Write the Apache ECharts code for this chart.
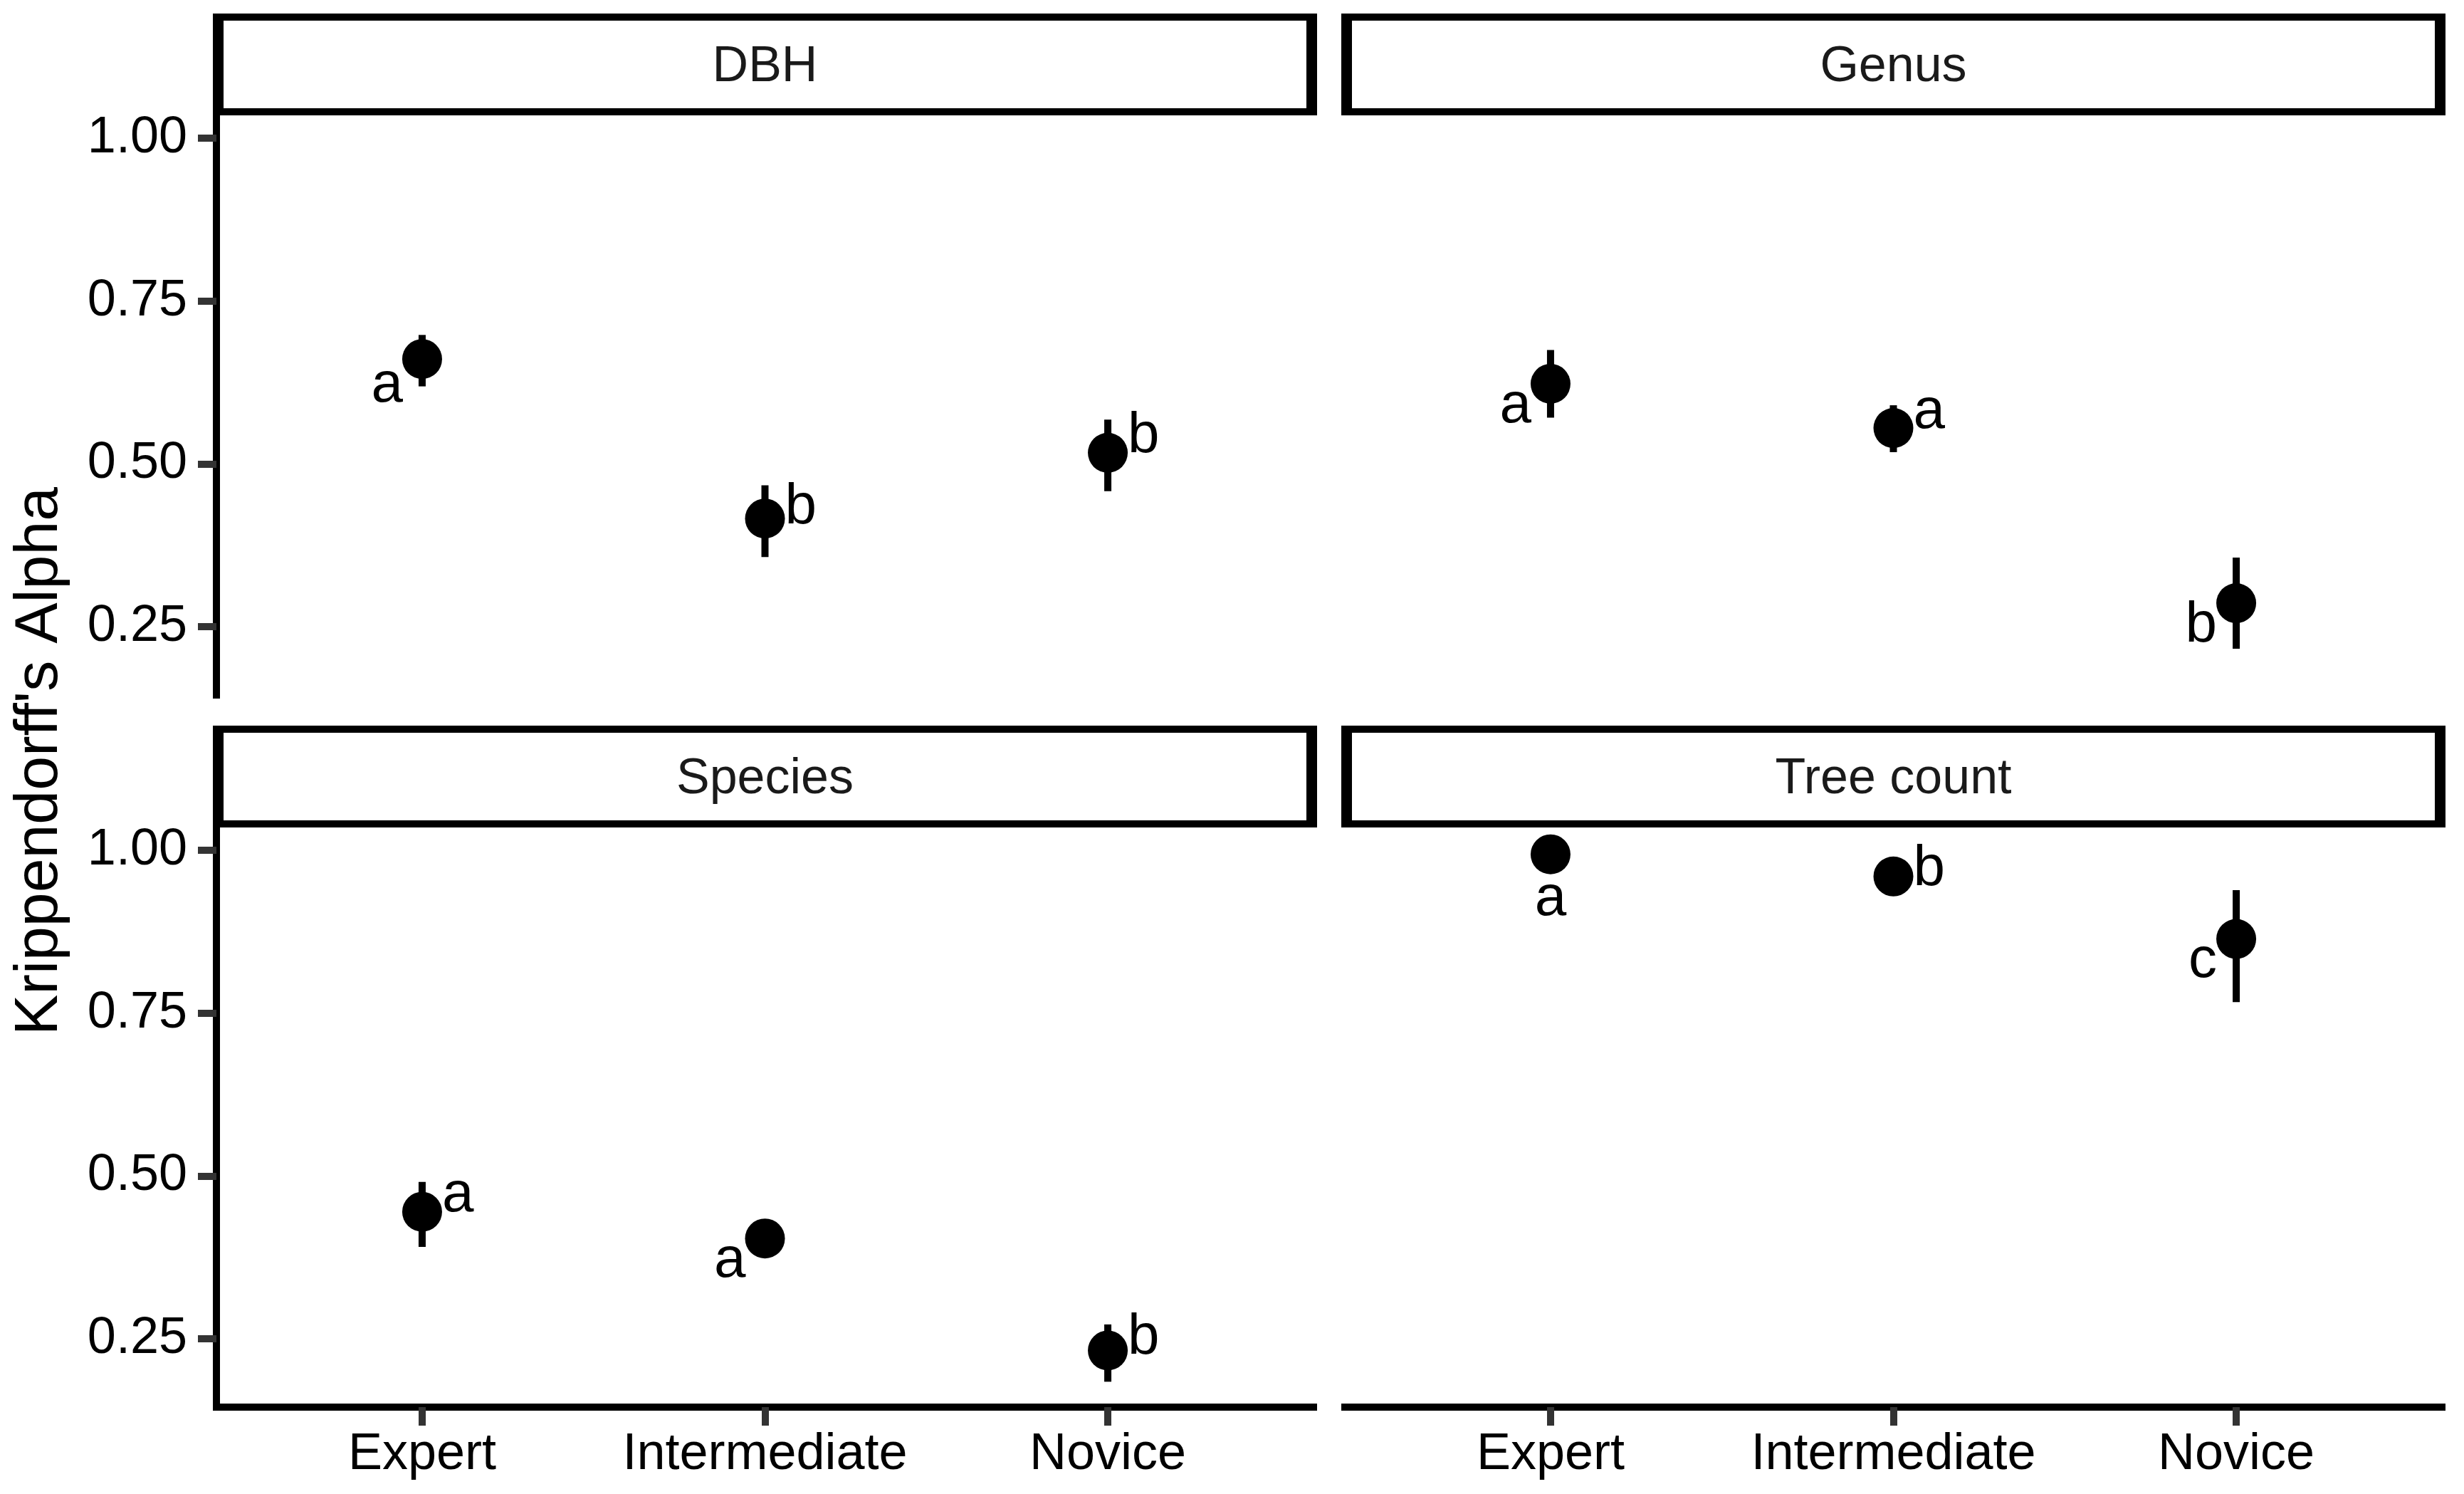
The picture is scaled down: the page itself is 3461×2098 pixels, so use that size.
<!DOCTYPE html>
<html>
<head>
<meta charset="utf-8">
<script src="https://cdn.jsdelivr.net/npm/echarts@6/dist/echarts.min.js"></script>
<style>
  html, body { margin: 0; padding: 0; background: #fff; }
  #chart { width: 3461px; height: 2098px; }
</style>
</head>
<body>
<div id="chart"></div>
<script>
// ---------- DATA ----------
const CATEGORIES = ['Expert', 'Intermediate', 'Novice'];
const PANELS = ['DBH', 'Genus', 'Species', 'Tree count'];
const Y_TICKS = [0.25, 0.50, 0.75, 1.00];
const Y_TITLE = "Krippendorff's Alpha";

const DBH_MEAN = [0.661, 0.416, 0.517];
const DBH_LOW  = [0.619, 0.357, 0.458];
const DBH_HIGH = [0.698, 0.467, 0.568];
const DBH_LETTERS = ['a', 'b', 'b'];

const GENUS_MEAN = [0.623, 0.555, 0.286];
const GENUS_LOW  = [0.571, 0.518, 0.216];
const GENUS_HIGH = [0.675, 0.590, 0.356];
const GENUS_LETTERS = ['a', 'a', 'b'];

const SPECIES_MEAN = [0.445, 0.404, 0.232];
const SPECIES_LOW  = [0.391, 0.380, 0.184];
const SPECIES_HIGH = [0.491, 0.428, 0.272];
const SPECIES_LETTERS = ['a', 'a', 'b'];

const TREE_MEAN = [0.994, 0.960, 0.864];
const TREE_LOW  = [0.985, 0.950, 0.767];
const TREE_HIGH = [1.000, 0.970, 0.939];
const TREE_LETTERS = ['a', 'b', 'c'];

const PANEL_DATA = [
  { mean: DBH_MEAN, low: DBH_LOW, high: DBH_HIGH, letters: DBH_LETTERS },
  { mean: GENUS_MEAN, low: GENUS_LOW, high: GENUS_HIGH, letters: GENUS_LETTERS },
  { mean: SPECIES_MEAN, low: SPECIES_LOW, high: SPECIES_HIGH, letters: SPECIES_LETTERS },
  { mean: TREE_MEAN, low: TREE_LOW, high: TREE_HIGH, letters: TREE_LETTERS }
];

// ---------- LAYOUT / STYLE ----------
const Y_MIN = 0.145, Y_MAX = 1.0407;
const FONT = '"Liberation Sans", Arial, Helvetica, sans-serif';
const GRIDS = [
  { left: 304,  top: 157,  width: 1541, height: 819 },
  { left: 1889, top: 157,  width: 1541, height: 819 },
  { left: 304,  top: 1157, width: 1541, height: 819 },
  { left: 1889, top: 1157, width: 1541, height: 819 }
];
// label side (L = left/below, R = right, B = below) and baseline offset (px) from point centre
const LABEL_SIDE = [['L', 'R', 'R'], ['L', 'R', 'L'], ['R', 'L', 'R'], ['B', 'R', 'L']];
const LABEL_BASE = [[65, 12, 5], [60, 6, 60], [5, 59, 10], [91, 18, 59]];
const LABEL_FONT = 80;
const POINT_R = 28;
const BAR_W = 10;

const chart = echarts.init(document.getElementById('chart'), null, { renderer: 'canvas' });

const grids = [], xAxes = [], yAxes = [], series = [], graphics = [];

GRIDS.forEach((g, i) => {
  const isBottom = i >= 2;
  const isLeft = i % 2 === 0;
  grids.push({ left: g.left, top: g.top, width: g.width, height: g.height,
               containLabel: false, outerBoundsMode: 'none' });

  xAxes.push({
    type: 'value', gridIndex: i, min: 0.4, max: 3.6,
    axisLine: { show: isBottom, onZero: false, lineStyle: { color: '#000', width: 10, cap: 'square' } },
    axisTick: { show: isBottom, customValues: [1, 2, 3], length: 26, lineStyle: { color: '#333333', width: 10 } },
    axisLabel: { show: isBottom, customValues: [1, 2, 3], margin: 31,
                 formatter: v => CATEGORIES[Math.round(v) - 1] || '',
                 color: '#000', fontSize: 72, fontFamily: FONT },
    splitLine: { show: false }
  });

  yAxes.push({
    type: 'value', gridIndex: i, min: Y_MIN, max: Y_MAX,
    axisLine: { show: isLeft, onZero: false, lineStyle: { color: '#000', width: 10, cap: 'square' } },
    axisTick: { show: isLeft, customValues: Y_TICKS, length: 26, lineStyle: { color: '#333333', width: 10 } },
    axisLabel: { show: isLeft, customValues: Y_TICKS, margin: 41,
                 formatter: v => Number(v).toFixed(2),
                 color: '#000', fontSize: 72, fontFamily: FONT },
    splitLine: { show: false }
  });

  const pd = PANEL_DATA[i];
  const data = CATEGORIES.map((c, k) => [k + 1, pd.mean[k], pd.low[k], pd.high[k], k]);

  series.push({
    type: 'custom', xAxisIndex: i, yAxisIndex: i, data: data, silent: true,
    animation: false,
    renderItem: (params, api) => {
      const x = api.value(0);
      const k = api.value(4);
      const c = api.coord([x, api.value(1)]);
      const lo = api.coord([x, api.value(2)]);
      const hi = api.coord([x, api.value(3)]);
      const side = LABEL_SIDE[i][k];
      const base = LABEL_BASE[i][k];
      let dx = 0, align = 'center';
      if (side === 'R') { dx = 28; align = 'left'; }
      else if (side === 'L') { dx = -27; align = 'right'; }
      const dy = base - 0.3465 * LABEL_FONT;
      return {
        type: 'group',
        children: [
          { type: 'line', shape: { x1: lo[0], y1: lo[1], x2: hi[0], y2: hi[1] },
            style: { stroke: '#000', lineWidth: BAR_W } },
          { type: 'circle', shape: { cx: c[0], cy: c[1], r: POINT_R }, style: { fill: '#000' } },
          { type: 'text', x: c[0] + dx, y: c[1] + dy,
            style: { text: pd.letters[k], fill: '#000', align: align, verticalAlign: 'middle',
                     font: LABEL_FONT + 'px ' + FONT } }
        ]
      };
    }
  });

  // facet strip
  const sx = g.left - 5, sy = g.top - 138, sw = g.width + 10, sh = 143;
  graphics.push({ type: 'rect', z: 100, shape: { x: sx, y: sy, width: sw, height: sh }, style: { fill: '#000' } });
  graphics.push({ type: 'rect', z: 101, shape: { x: sx + 15, y: sy + 10, width: sw - 30, height: sh - 20 }, style: { fill: '#fff' } });
  graphics.push({ type: 'text', z: 102, x: g.left + g.width / 2, y: sy + 76,
    style: { text: PANELS[i], fill: '#1a1a1a', align: 'center', verticalAlign: 'middle', font: '70px ' + FONT } });
});

graphics.push({ type: 'text', z: 102, x: 56, y: 1069, rotation: Math.PI / 2,
  style: { text: Y_TITLE, fill: '#000', align: 'center', verticalAlign: 'middle', font: '86px ' + FONT } });

chart.setOption({
  backgroundColor: '#fff',
  animation: false,
  grid: grids, xAxis: xAxes, yAxis: yAxes, series: series, graphic: graphics
});
</script>
</body>
</html>
